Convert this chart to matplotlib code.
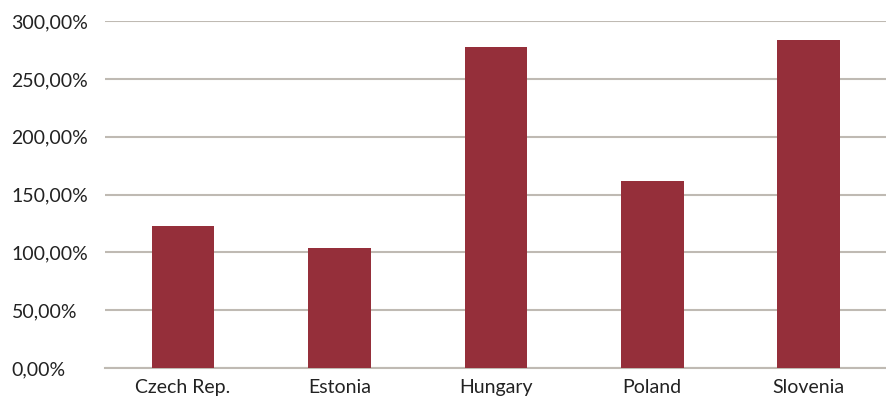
import numpy as np
import matplotlib.pyplot as plt
from matplotlib.ticker import FuncFormatter

countries = ['Czech Rep.', 'Estonia', 'Hungary', 'Poland', 'Slovenia']
growth_pct = [122.8, 103.7, 277.5, 161.7, 283.6]

bar_color = '#952F3A'
grid_color = '#BFBAB3'

plt.rcParams['font.family'] = ['Lato', 'DejaVu Sans']

fig = plt.figure(figsize=(8.87, 4.07), dpi=100)
ax = fig.add_axes([0.118, 0.096, 0.882, 0.852])

x = np.arange(len(countries))
ax.bar(x, growth_pct, width=0.4, color=bar_color, zorder=3)

ax.set_xlim(-0.5, len(countries) - 0.5)
ax.set_ylim(0, 300)
ax.set_yticks(np.arange(0, 301, 50))
ax.yaxis.set_major_formatter(FuncFormatter(lambda v, _: f"{v:.2f}%".replace('.', ',')))
ax.set_xticks(x)
ax.set_xticklabels(countries)

ax.grid(axis='y', color=grid_color, linewidth=1.5, zorder=0)
for side in ['top', 'right', 'left']:
    ax.spines[side].set_visible(False)
ax.spines['bottom'].set_color(grid_color)
ax.spines['bottom'].set_linewidth(1.5)
ax.tick_params(axis='both', length=0, labelsize=14, colors='#222222')
ax.tick_params(axis='x', pad=8)

# left-aligned y labels starting near the figure edge
ax.tick_params(axis='y', pad=67)
for lbl in ax.get_yticklabels():
    lbl.set_horizontalalignment('left')

fig.savefig('out.png', dpi=100)
